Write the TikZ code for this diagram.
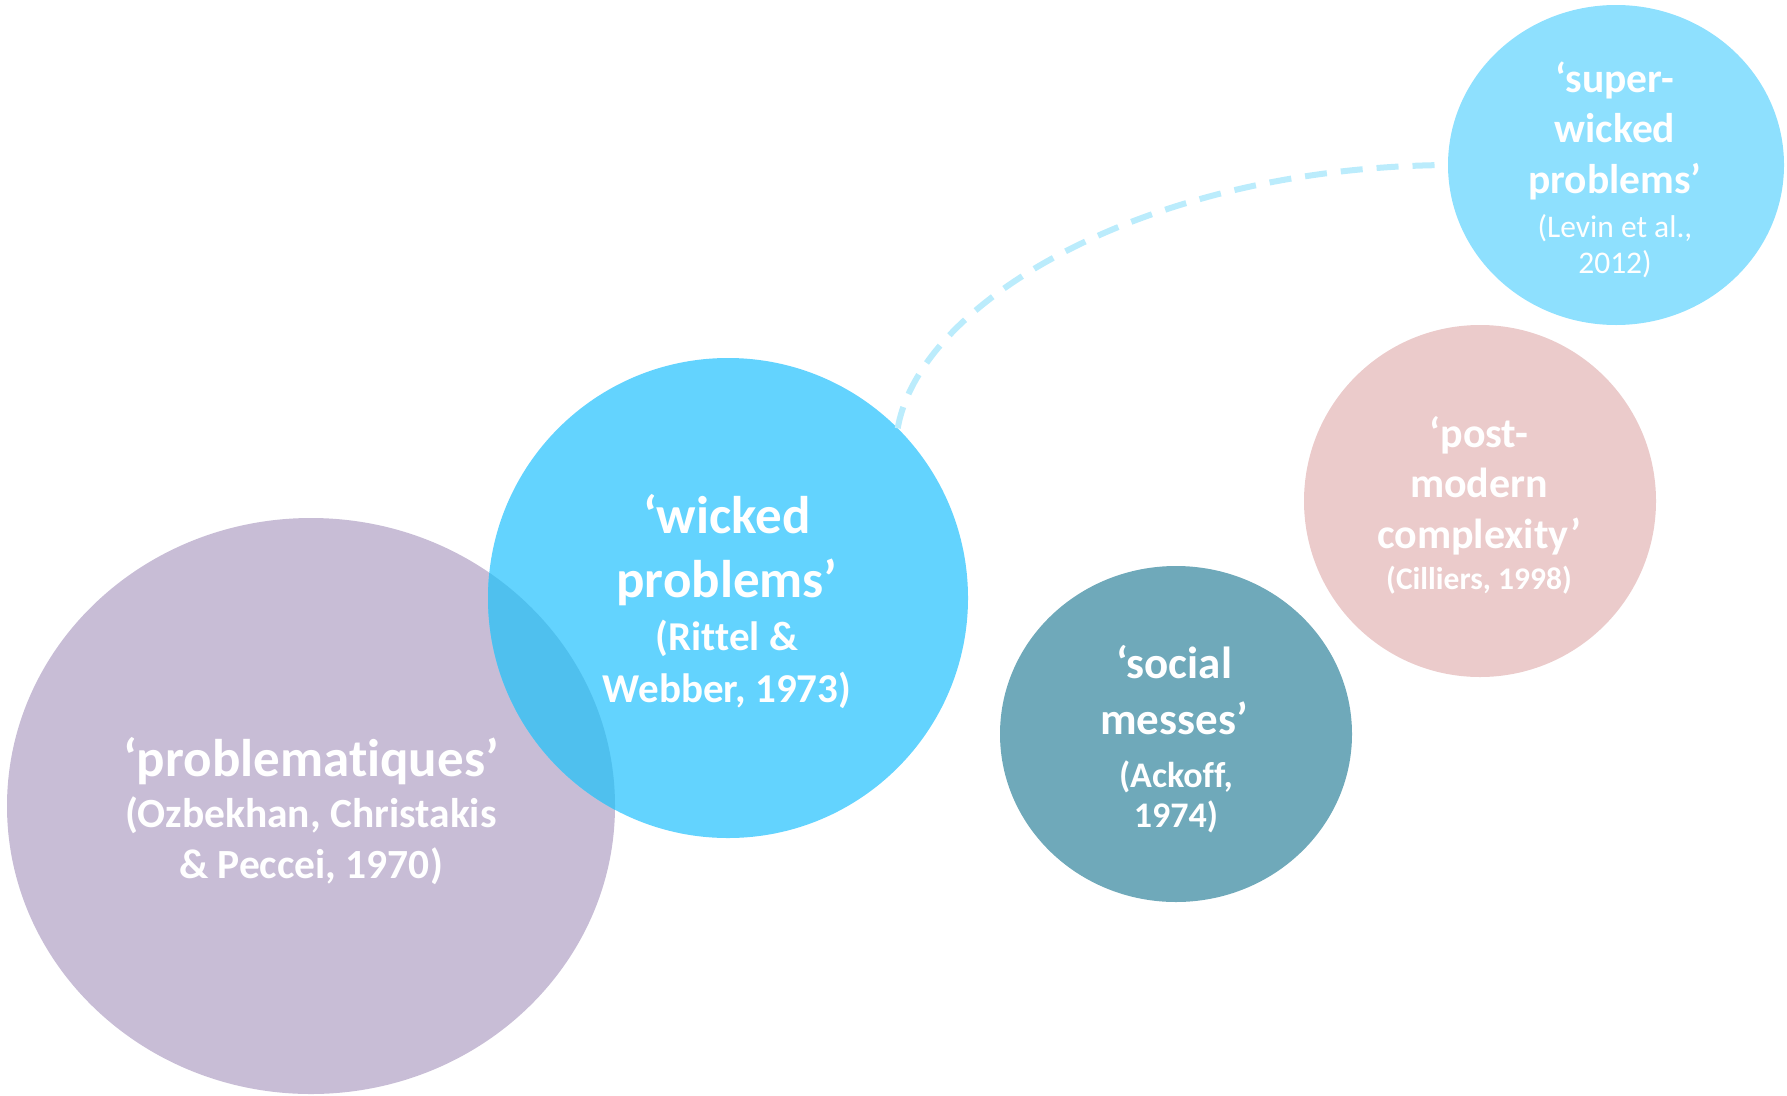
\documentclass[tikz,border=0pt]{standalone}
\usepackage{fontspec}
\setmainfont[Ligatures={NoCommon,NoRare,NoContextual}]{Carlito}
\usetikzlibrary{shapes.geometric}
\definecolor{cpurple}{RGB}{200,189,214}
\definecolor{cwicked}{RGB}{99,211,254}
\definecolor{coverlap}{RGB}{79,192,238}
\definecolor{csuper}{RGB}{142,224,254}
\definecolor{cpost}{RGB}{235,203,203}
\definecolor{csocial}{RGB}{111,169,186}
\definecolor{cdash}{RGB}{187,236,252}
\tikzset{
  blob/.style={ellipse, draw=none, inner sep=0pt, outer sep=0pt},
  lbl/.style={text=white, anchor=base, inner sep=0pt, font=\bfseries},
  sublbl/.style={text=white, anchor=base, inner sep=0pt},
  link/.style={draw=cdash, line width=6pt, dash pattern=on 22pt off 14pt}
}
\newcommand{\fsz}[1]{\fontsize{#1}{#1}\selectfont}
\begin{document}
\begin{tikzpicture}[x=1pt,y=-1pt]
\useasboundingbox (0,0) rectangle (1787,1095);
% shapes
\node[blob, fill=cpurple, minimum width=608pt, minimum height=576pt] (pr) at (311,806) {};
\node[blob, fill=cwicked, minimum width=480pt, minimum height=480pt] (wk) at (728,598) {};
\begin{scope}
  \clip (311,806) ellipse [x radius=304, y radius=288];
  \fill[coverlap] (728,598) circle [radius=240];
\end{scope}
\node[blob, fill=csocial, minimum width=352pt, minimum height=336pt] (sm) at (1176,734) {};
\node[blob, fill=cpost, minimum width=352pt, minimum height=352pt] (pm) at (1480,501) {};
\node[blob, fill=csuper, minimum width=336pt, minimum height=320pt] (sw) at (1616,165) {};
% dashed connector
\draw[link] (wk.45) .. controls (920,300) and (1150,167) .. (sw.west);
% problematiques
\node[lbl, font=\bfseries\fsz{53}] (pr1) at (311,776) {‘problemat\kern0pt iques’};
\node[lbl, font=\bfseries\fsz{41.5}] (pr2) at (311,827) {(Ozbekhan, Christakis};
\node[lbl, font=\bfseries\fsz{41.5}] (pr3) at (311,878) {\& Peccei, 1970)};
% wicked
\node[lbl, font=\bfseries\fsz{53}] (wk1) at (727,533) {‘wicked};
\node[lbl, font=\bfseries\fsz{53}] (wk2) at (727,597) {problems’};
\node[lbl, font=\bfseries\fsz{41}] (wk3) at (727,650) {(Rittel \&};
\node[lbl, font=\bfseries\fsz{41}] (wk4) at (727,702) {Webber, 1973)};
% social messes
\node[lbl, font=\bfseries\fsz{45}] (sm1) at (1174,678) {‘social};
\node[lbl, font=\bfseries\fsz{45}] (sm2) at (1174,734) {messes’};
\node[lbl, font=\bfseries\fsz{36}] (sm3) at (1176,787) {(Ackof\kern0pt f,};
\node[lbl, font=\bfseries\fsz{36}] (sm4) at (1176,827) {1974)};
% post-modern
\node[lbl, font=\bfseries\fsz{42}] (pm1) at (1479,447) {‘post-};
\node[lbl, font=\bfseries\fsz{42}] (pm2) at (1479,497) {modern};
\node[lbl, font=\bfseries\fsz{42}] (pm3) at (1479,548) {complexity’};
\node[lbl, font=\bfseries\fsz{31.5}] (pm4) at (1479,589) {(Cilliers, 1998)};
% super-wicked
\node[lbl, font=\bfseries\fsz{41.5}] (sw1) at (1615,92) {‘super-};
\node[lbl, font=\bfseries\fsz{41.5}] (sw2) at (1615,142) {wicked};
\node[lbl, font=\bfseries\fsz{41.5}] (sw3) at (1615,193) {problems’};
\node[sublbl, font=\fsz{31.5}] (sw4) at (1615,237) {(Levin et al.,};
\node[sublbl, font=\fsz{31.5}] (sw5) at (1615,273) {2012)};
\end{tikzpicture}
\end{document}
